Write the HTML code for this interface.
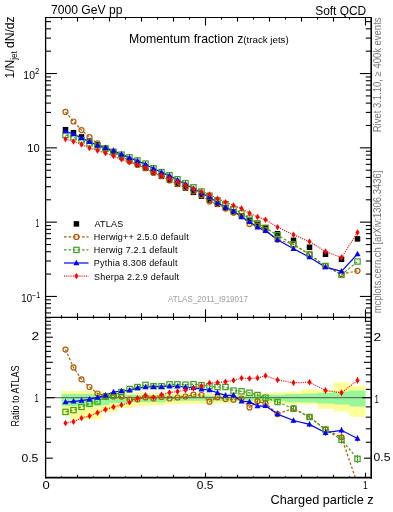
<!DOCTYPE html>
<html><head><meta charset="utf-8"><style>
html,body{margin:0;padding:0;background:#fff;width:393px;height:512px;overflow:hidden}
svg{display:block;will-change:transform;font-family:"Liberation Sans",sans-serif}
</style></head><body>
<svg width="393" height="512" viewBox="0 0 393 512">
<defs><clipPath id="cu"><rect x="45.5" y="17.5" width="325.5" height="300"/></clipPath>
<clipPath id="cl"><rect x="45.5" y="317.5" width="325.5" height="160"/></clipPath></defs>
<g clip-path="url(#cl)">
<path d="M61.5 390.9L69.5 390.9L69.5 390.9L77.5 390.9L77.5 390.9L85.5 390.9L85.5 390.9L93.5 390.9L93.5 390.9L101.5 390.9L101.5 392.3L109.5 392.3L109.5 392.3L117.5 392.3L117.5 392.3L125.5 392.3L125.5 393L133.5 393L133.5 393L141.5 393L141.5 393L149.5 393L149.5 393.3L157.5 393.3L157.5 393.3L165.5 393.3L165.5 393.3L173.5 393.3L173.5 393.3L181.5 393.3L181.5 393.3L189.5 393.3L189.5 393.3L197.5 393.3L197.5 393.3L205.5 393.3L205.5 393.3L213.5 393.3L213.5 393.3L221.5 393.3L221.5 393.3L229.5 393.3L229.5 393.3L237.5 393.3L237.5 393.3L245.5 393.3L245.5 393.3L253.5 393.3L253.5 393.3L261.5 393.3L261.5 393.3L269.5 393.3L269.5 392.5L285.5 392.5L285.5 391.6L301.5 391.6L301.5 389.3L317.5 389.3L317.5 390.5L333.5 390.5L333.5 382.3L349.5 382.3L349.5 385.8L365.5 385.8L365.5 416.7L349.5 416.7L349.5 411.6L333.5 411.6L333.5 408.7L317.5 408.7L317.5 404.5L301.5 404.5L301.5 404.5L285.5 404.5L285.5 403.5L269.5 403.5L269.5 402.8L261.5 402.8L261.5 402.8L253.5 402.8L253.5 402.8L245.5 402.8L245.5 402.8L237.5 402.8L237.5 403L229.5 403L229.5 403.2L221.5 403.2L221.5 403.5L213.5 403.5L213.5 403.5L205.5 403.5L205.5 403.8L197.5 403.8L197.5 404L189.5 404L189.5 404.2L181.5 404.2L181.5 404.2L173.5 404.2L173.5 404.2L165.5 404.2L165.5 405.4L157.5 405.4L157.5 405.4L149.5 405.4L149.5 406L141.5 406L141.5 406L133.5 406L133.5 408.2L125.5 408.2L125.5 408.2L117.5 408.2L117.5 412.3L109.5 412.3L109.5 412.3L101.5 412.3L101.5 419.4L93.5 419.4L93.5 419.4L85.5 419.4L85.5 419.4L77.5 419.4L77.5 419.4L69.5 419.4L69.5 415.3L61.5 415.3Z" fill="#ffff99"/>
<path d="M61.5 394L69.5 394L69.5 394L77.5 394L77.5 394L85.5 394L85.5 394L93.5 394L93.5 394L101.5 394L101.5 394.6L109.5 394.6L109.5 394.6L117.5 394.6L117.5 394.6L125.5 394.6L125.5 395L133.5 395L133.5 395L141.5 395L141.5 395L149.5 395L149.5 395L157.5 395L157.5 395L165.5 395L165.5 395.5L173.5 395.5L173.5 395.5L181.5 395.5L181.5 395.5L189.5 395.5L189.5 395.5L197.5 395.5L197.5 395.5L205.5 395.5L205.5 395.5L213.5 395.5L213.5 395.5L221.5 395.5L221.5 395.5L229.5 395.5L229.5 395.5L237.5 395.5L237.5 395.5L245.5 395.5L245.5 395.5L253.5 395.5L253.5 395.5L261.5 395.5L261.5 395.5L269.5 395.5L269.5 394.8L285.5 394.8L285.5 394L301.5 394L301.5 393.5L317.5 393.5L317.5 392.8L333.5 392.8L333.5 391.6L349.5 391.6L349.5 390.5L365.5 390.5L365.5 406.4L349.5 406.4L349.5 404.5L333.5 404.5L333.5 403.4L317.5 403.4L317.5 402.5L301.5 402.5L301.5 402.2L285.5 402.2L285.5 401L269.5 401L269.5 400.8L261.5 400.8L261.5 400.8L253.5 400.8L253.5 400.8L245.5 400.8L245.5 400.8L237.5 400.8L237.5 400.8L229.5 400.8L229.5 400.8L221.5 400.8L221.5 400.8L213.5 400.8L213.5 400.8L205.5 400.8L205.5 400.8L197.5 400.8L197.5 400.8L189.5 400.8L189.5 400.8L181.5 400.8L181.5 400.8L173.5 400.8L173.5 400.8L165.5 400.8L165.5 402.3L157.5 402.3L157.5 402.3L149.5 402.3L149.5 402.3L141.5 402.3L141.5 402.3L133.5 402.3L133.5 402.3L125.5 402.3L125.5 403.1L117.5 403.1L117.5 403.1L109.5 403.1L109.5 405.1L101.5 405.1L101.5 406.1L93.5 406.1L93.5 406.1L85.5 406.1L85.5 406.1L77.5 406.1L77.5 406.1L69.5 406.1L69.5 406.1L61.5 406.1Z" fill="#96f896"/>
<line x1="45.5" y1="397.7" x2="371" y2="397.7" stroke="#555" stroke-width="1"/>
<polyline points="65.5,349.6 73.5,367.4 81.5,379.3 89.5,387 97.5,393.5 105.5,395.8 113.5,396.4 121.5,396.6 129.5,399.5 137.5,399.3 145.5,397.4 153.5,398.5 161.5,397 169.5,398.5 177.5,397.5 185.5,396.5 193.5,394.6 201.5,395 209.5,401.7 217.5,397.2 225.5,399 233.5,399.7 241.5,398.5 249.5,407.4 257.5,401.3 265.5,403.4 277.5,414 293.5,408.4 309.5,417 325.5,429.6 341.5,437.3 357.5,484" fill="none" stroke="#b35a00" stroke-width="1.2" stroke-dasharray="2.6,1.9"/>
<polyline points="65.5,411.9 73.5,410.1 81.5,406.9 89.5,403.8 97.5,401.5 105.5,396.7 113.5,395.5 121.5,392 129.5,389 137.5,387.1 145.5,384.9 153.5,386.2 161.5,386.2 169.5,384.3 177.5,384.3 185.5,384.7 193.5,384.2 201.5,385.1 209.5,386.2 217.5,387 225.5,387 233.5,390.6 241.5,391.3 249.5,392.8 257.5,395 265.5,397.7 277.5,402 293.5,408.7 309.5,417 325.5,429.6 341.5,439.7 357.5,458.9" fill="none" stroke="#40a020" stroke-width="1.2" stroke-dasharray="2.6,1.9"/>
<polyline points="65.5,402.1 73.5,401.3 81.5,400.6 89.5,399.4 97.5,397.6 105.5,395.3 113.5,392.1 121.5,391 129.5,390.3 137.5,388.1 145.5,387.1 153.5,386.7 161.5,386.7 169.5,386.2 177.5,386.3 185.5,387 193.5,387.8 201.5,389.2 209.5,390.1 217.5,392.8 225.5,395.4 233.5,395.4 241.5,401.3 249.5,401.7 257.5,406.1 265.5,405.8 277.5,414.1 293.5,420.5 309.5,424.4 325.5,432.7 341.5,430.3 357.5,438.5" fill="none" stroke="#0000ff" stroke-width="1.2"/>
<polyline points="65.5,423.1 73.5,421.7 81.5,418.1 89.5,416 97.5,412.7 105.5,409.5 113.5,407 121.5,404.9 129.5,402.4 137.5,398.3 145.5,395.3 153.5,397.4 161.5,394.7 169.5,392.6 177.5,391.5 185.5,390.1 193.5,388.3 201.5,386 209.5,383 217.5,382.6 225.5,381.7 233.5,380.4 241.5,378.1 249.5,378.5 257.5,378 265.5,375.8 277.5,379.9 293.5,382.8 309.5,382.3 325.5,390.5 341.5,392.8 357.5,380.4" fill="none" stroke="#ff0000" stroke-width="1.2" stroke-dasharray="1,1.2"/>
<line x1="257.5" y1="399.8" x2="257.5" y2="402.8" stroke="#b35a00" stroke-width="1"/>
<line x1="265.5" y1="401.4" x2="265.5" y2="405.4" stroke="#b35a00" stroke-width="1"/>
<line x1="277.5" y1="410.5" x2="277.5" y2="417.5" stroke="#b35a00" stroke-width="1"/>
<line x1="293.5" y1="404.9" x2="293.5" y2="411.9" stroke="#b35a00" stroke-width="1"/>
<line x1="309.5" y1="414" x2="309.5" y2="420" stroke="#b35a00" stroke-width="1"/>
<line x1="325.5" y1="426.1" x2="325.5" y2="433.1" stroke="#b35a00" stroke-width="1"/>
<line x1="341.5" y1="433.3" x2="341.5" y2="441.3" stroke="#b35a00" stroke-width="1"/>
<line x1="357.5" y1="480" x2="357.5" y2="488" stroke="#b35a00" stroke-width="1"/>
<line x1="257.5" y1="393.5" x2="257.5" y2="396.5" stroke="#40a020" stroke-width="1"/>
<line x1="265.5" y1="395.7" x2="265.5" y2="399.7" stroke="#40a020" stroke-width="1"/>
<line x1="277.5" y1="399" x2="277.5" y2="405" stroke="#40a020" stroke-width="1"/>
<line x1="293.5" y1="405.7" x2="293.5" y2="411.7" stroke="#40a020" stroke-width="1"/>
<line x1="309.5" y1="414" x2="309.5" y2="420" stroke="#40a020" stroke-width="1"/>
<line x1="325.5" y1="426.1" x2="325.5" y2="433.1" stroke="#40a020" stroke-width="1"/>
<line x1="341.5" y1="435.7" x2="341.5" y2="443.7" stroke="#40a020" stroke-width="1"/>
<line x1="357.5" y1="454.9" x2="357.5" y2="462.9" stroke="#40a020" stroke-width="1"/>
<line x1="257.5" y1="404.6" x2="257.5" y2="407.6" stroke="#0000ff" stroke-width="1"/>
<line x1="265.5" y1="404.3" x2="265.5" y2="407.3" stroke="#0000ff" stroke-width="1"/>
<line x1="277.5" y1="411.6" x2="277.5" y2="416.6" stroke="#0000ff" stroke-width="1"/>
<line x1="293.5" y1="418" x2="293.5" y2="423" stroke="#0000ff" stroke-width="1"/>
<line x1="309.5" y1="421.9" x2="309.5" y2="426.9" stroke="#0000ff" stroke-width="1"/>
<line x1="325.5" y1="429.7" x2="325.5" y2="435.7" stroke="#0000ff" stroke-width="1"/>
<line x1="341.5" y1="427.3" x2="341.5" y2="433.3" stroke="#0000ff" stroke-width="1"/>
<line x1="357.5" y1="435.5" x2="357.5" y2="441.5" stroke="#0000ff" stroke-width="1"/>
<line x1="257.5" y1="376.5" x2="257.5" y2="379.5" stroke="#ff0000" stroke-width="1"/>
<line x1="265.5" y1="374.3" x2="265.5" y2="377.3" stroke="#ff0000" stroke-width="1"/>
<line x1="277.5" y1="377.4" x2="277.5" y2="382.4" stroke="#ff0000" stroke-width="1"/>
<line x1="293.5" y1="380.3" x2="293.5" y2="385.3" stroke="#ff0000" stroke-width="1"/>
<line x1="309.5" y1="379.8" x2="309.5" y2="384.8" stroke="#ff0000" stroke-width="1"/>
<line x1="325.5" y1="387.5" x2="325.5" y2="393.5" stroke="#ff0000" stroke-width="1"/>
<line x1="341.5" y1="389.8" x2="341.5" y2="395.8" stroke="#ff0000" stroke-width="1"/>
<line x1="357.5" y1="377.4" x2="357.5" y2="383.4" stroke="#ff0000" stroke-width="1"/>
<circle cx="65.5" cy="349.6" r="2.5" fill="none" stroke="#b35a00" stroke-width="1.2"/>
<circle cx="73.5" cy="367.4" r="2.5" fill="none" stroke="#b35a00" stroke-width="1.2"/>
<circle cx="81.5" cy="379.3" r="2.5" fill="none" stroke="#b35a00" stroke-width="1.2"/>
<circle cx="89.5" cy="387" r="2.5" fill="none" stroke="#b35a00" stroke-width="1.2"/>
<circle cx="97.5" cy="393.5" r="2.5" fill="none" stroke="#b35a00" stroke-width="1.2"/>
<circle cx="105.5" cy="395.8" r="2.5" fill="none" stroke="#b35a00" stroke-width="1.2"/>
<circle cx="113.5" cy="396.4" r="2.5" fill="none" stroke="#b35a00" stroke-width="1.2"/>
<circle cx="121.5" cy="396.6" r="2.5" fill="none" stroke="#b35a00" stroke-width="1.2"/>
<circle cx="129.5" cy="399.5" r="2.5" fill="none" stroke="#b35a00" stroke-width="1.2"/>
<circle cx="137.5" cy="399.3" r="2.5" fill="none" stroke="#b35a00" stroke-width="1.2"/>
<circle cx="145.5" cy="397.4" r="2.5" fill="none" stroke="#b35a00" stroke-width="1.2"/>
<circle cx="153.5" cy="398.5" r="2.5" fill="none" stroke="#b35a00" stroke-width="1.2"/>
<circle cx="161.5" cy="397" r="2.5" fill="none" stroke="#b35a00" stroke-width="1.2"/>
<circle cx="169.5" cy="398.5" r="2.5" fill="none" stroke="#b35a00" stroke-width="1.2"/>
<circle cx="177.5" cy="397.5" r="2.5" fill="none" stroke="#b35a00" stroke-width="1.2"/>
<circle cx="185.5" cy="396.5" r="2.5" fill="none" stroke="#b35a00" stroke-width="1.2"/>
<circle cx="193.5" cy="394.6" r="2.5" fill="none" stroke="#b35a00" stroke-width="1.2"/>
<circle cx="201.5" cy="395" r="2.5" fill="none" stroke="#b35a00" stroke-width="1.2"/>
<circle cx="209.5" cy="401.7" r="2.5" fill="none" stroke="#b35a00" stroke-width="1.2"/>
<circle cx="217.5" cy="397.2" r="2.5" fill="none" stroke="#b35a00" stroke-width="1.2"/>
<circle cx="225.5" cy="399" r="2.5" fill="none" stroke="#b35a00" stroke-width="1.2"/>
<circle cx="233.5" cy="399.7" r="2.5" fill="none" stroke="#b35a00" stroke-width="1.2"/>
<circle cx="241.5" cy="398.5" r="2.5" fill="none" stroke="#b35a00" stroke-width="1.2"/>
<circle cx="249.5" cy="407.4" r="2.5" fill="none" stroke="#b35a00" stroke-width="1.2"/>
<circle cx="257.5" cy="401.3" r="2.5" fill="none" stroke="#b35a00" stroke-width="1.2"/>
<circle cx="265.5" cy="403.4" r="2.5" fill="none" stroke="#b35a00" stroke-width="1.2"/>
<circle cx="277.5" cy="414" r="2.5" fill="none" stroke="#b35a00" stroke-width="1.2"/>
<circle cx="293.5" cy="408.4" r="2.5" fill="none" stroke="#b35a00" stroke-width="1.2"/>
<circle cx="309.5" cy="417" r="2.5" fill="none" stroke="#b35a00" stroke-width="1.2"/>
<circle cx="325.5" cy="429.6" r="2.5" fill="none" stroke="#b35a00" stroke-width="1.2"/>
<circle cx="341.5" cy="437.3" r="2.5" fill="none" stroke="#b35a00" stroke-width="1.2"/>
<circle cx="357.5" cy="484" r="2.5" fill="none" stroke="#b35a00" stroke-width="1.2"/>
<rect x="62.85" y="409.25" width="5.3" height="5.3" fill="none" stroke="#40a020" stroke-width="1.2"/>
<rect x="70.85" y="407.45" width="5.3" height="5.3" fill="none" stroke="#40a020" stroke-width="1.2"/>
<rect x="78.85" y="404.25" width="5.3" height="5.3" fill="none" stroke="#40a020" stroke-width="1.2"/>
<rect x="86.85" y="401.15" width="5.3" height="5.3" fill="none" stroke="#40a020" stroke-width="1.2"/>
<rect x="94.85" y="398.85" width="5.3" height="5.3" fill="none" stroke="#40a020" stroke-width="1.2"/>
<rect x="102.85" y="394.05" width="5.3" height="5.3" fill="none" stroke="#40a020" stroke-width="1.2"/>
<rect x="110.85" y="392.85" width="5.3" height="5.3" fill="none" stroke="#40a020" stroke-width="1.2"/>
<rect x="118.85" y="389.35" width="5.3" height="5.3" fill="none" stroke="#40a020" stroke-width="1.2"/>
<rect x="126.85" y="386.35" width="5.3" height="5.3" fill="none" stroke="#40a020" stroke-width="1.2"/>
<rect x="134.85" y="384.45" width="5.3" height="5.3" fill="none" stroke="#40a020" stroke-width="1.2"/>
<rect x="142.85" y="382.25" width="5.3" height="5.3" fill="none" stroke="#40a020" stroke-width="1.2"/>
<rect x="150.85" y="383.55" width="5.3" height="5.3" fill="none" stroke="#40a020" stroke-width="1.2"/>
<rect x="158.85" y="383.55" width="5.3" height="5.3" fill="none" stroke="#40a020" stroke-width="1.2"/>
<rect x="166.85" y="381.65" width="5.3" height="5.3" fill="none" stroke="#40a020" stroke-width="1.2"/>
<rect x="174.85" y="381.65" width="5.3" height="5.3" fill="none" stroke="#40a020" stroke-width="1.2"/>
<rect x="182.85" y="382.05" width="5.3" height="5.3" fill="none" stroke="#40a020" stroke-width="1.2"/>
<rect x="190.85" y="381.55" width="5.3" height="5.3" fill="none" stroke="#40a020" stroke-width="1.2"/>
<rect x="198.85" y="382.45" width="5.3" height="5.3" fill="none" stroke="#40a020" stroke-width="1.2"/>
<rect x="206.85" y="383.55" width="5.3" height="5.3" fill="none" stroke="#40a020" stroke-width="1.2"/>
<rect x="214.85" y="384.35" width="5.3" height="5.3" fill="none" stroke="#40a020" stroke-width="1.2"/>
<rect x="222.85" y="384.35" width="5.3" height="5.3" fill="none" stroke="#40a020" stroke-width="1.2"/>
<rect x="230.85" y="387.95" width="5.3" height="5.3" fill="none" stroke="#40a020" stroke-width="1.2"/>
<rect x="238.85" y="388.65" width="5.3" height="5.3" fill="none" stroke="#40a020" stroke-width="1.2"/>
<rect x="246.85" y="390.15" width="5.3" height="5.3" fill="none" stroke="#40a020" stroke-width="1.2"/>
<rect x="254.85" y="392.35" width="5.3" height="5.3" fill="none" stroke="#40a020" stroke-width="1.2"/>
<rect x="262.85" y="395.05" width="5.3" height="5.3" fill="none" stroke="#40a020" stroke-width="1.2"/>
<rect x="274.85" y="399.35" width="5.3" height="5.3" fill="none" stroke="#40a020" stroke-width="1.2"/>
<rect x="290.85" y="406.05" width="5.3" height="5.3" fill="none" stroke="#40a020" stroke-width="1.2"/>
<rect x="306.85" y="414.35" width="5.3" height="5.3" fill="none" stroke="#40a020" stroke-width="1.2"/>
<rect x="322.85" y="426.95" width="5.3" height="5.3" fill="none" stroke="#40a020" stroke-width="1.2"/>
<rect x="338.85" y="437.05" width="5.3" height="5.3" fill="none" stroke="#40a020" stroke-width="1.2"/>
<rect x="354.85" y="456.25" width="5.3" height="5.3" fill="none" stroke="#40a020" stroke-width="1.2"/>
<path d="M65.5 398.8L68.5 404.3L62.5 404.3Z" fill="#0000ff"/>
<path d="M73.5 398L76.5 403.5L70.5 403.5Z" fill="#0000ff"/>
<path d="M81.5 397.3L84.5 402.8L78.5 402.8Z" fill="#0000ff"/>
<path d="M89.5 396.1L92.5 401.6L86.5 401.6Z" fill="#0000ff"/>
<path d="M97.5 394.3L100.5 399.8L94.5 399.8Z" fill="#0000ff"/>
<path d="M105.5 392L108.5 397.5L102.5 397.5Z" fill="#0000ff"/>
<path d="M113.5 388.8L116.5 394.3L110.5 394.3Z" fill="#0000ff"/>
<path d="M121.5 387.7L124.5 393.2L118.5 393.2Z" fill="#0000ff"/>
<path d="M129.5 387L132.5 392.5L126.5 392.5Z" fill="#0000ff"/>
<path d="M137.5 384.8L140.5 390.3L134.5 390.3Z" fill="#0000ff"/>
<path d="M145.5 383.8L148.5 389.3L142.5 389.3Z" fill="#0000ff"/>
<path d="M153.5 383.4L156.5 388.9L150.5 388.9Z" fill="#0000ff"/>
<path d="M161.5 383.4L164.5 388.9L158.5 388.9Z" fill="#0000ff"/>
<path d="M169.5 382.9L172.5 388.4L166.5 388.4Z" fill="#0000ff"/>
<path d="M177.5 383L180.5 388.5L174.5 388.5Z" fill="#0000ff"/>
<path d="M185.5 383.7L188.5 389.2L182.5 389.2Z" fill="#0000ff"/>
<path d="M193.5 384.5L196.5 390L190.5 390Z" fill="#0000ff"/>
<path d="M201.5 385.9L204.5 391.4L198.5 391.4Z" fill="#0000ff"/>
<path d="M209.5 386.8L212.5 392.3L206.5 392.3Z" fill="#0000ff"/>
<path d="M217.5 389.5L220.5 395L214.5 395Z" fill="#0000ff"/>
<path d="M225.5 392.1L228.5 397.6L222.5 397.6Z" fill="#0000ff"/>
<path d="M233.5 392.1L236.5 397.6L230.5 397.6Z" fill="#0000ff"/>
<path d="M241.5 398L244.5 403.5L238.5 403.5Z" fill="#0000ff"/>
<path d="M249.5 398.4L252.5 403.9L246.5 403.9Z" fill="#0000ff"/>
<path d="M257.5 402.8L260.5 408.3L254.5 408.3Z" fill="#0000ff"/>
<path d="M265.5 402.5L268.5 408L262.5 408Z" fill="#0000ff"/>
<path d="M277.5 410.8L280.5 416.3L274.5 416.3Z" fill="#0000ff"/>
<path d="M293.5 417.2L296.5 422.7L290.5 422.7Z" fill="#0000ff"/>
<path d="M309.5 421.1L312.5 426.6L306.5 426.6Z" fill="#0000ff"/>
<path d="M325.5 429.4L328.5 434.9L322.5 434.9Z" fill="#0000ff"/>
<path d="M341.5 427L344.5 432.5L338.5 432.5Z" fill="#0000ff"/>
<path d="M357.5 435.2L360.5 440.7L354.5 440.7Z" fill="#0000ff"/>
<path d="M65.5 419.9L67.6 423.1L65.5 426.3L63.4 423.1Z" fill="#ff0000"/>
<path d="M73.5 418.5L75.6 421.7L73.5 424.9L71.4 421.7Z" fill="#ff0000"/>
<path d="M81.5 414.9L83.6 418.1L81.5 421.3L79.4 418.1Z" fill="#ff0000"/>
<path d="M89.5 412.8L91.6 416L89.5 419.2L87.4 416Z" fill="#ff0000"/>
<path d="M97.5 409.5L99.6 412.7L97.5 415.9L95.4 412.7Z" fill="#ff0000"/>
<path d="M105.5 406.3L107.6 409.5L105.5 412.7L103.4 409.5Z" fill="#ff0000"/>
<path d="M113.5 403.8L115.6 407L113.5 410.2L111.4 407Z" fill="#ff0000"/>
<path d="M121.5 401.7L123.6 404.9L121.5 408.1L119.4 404.9Z" fill="#ff0000"/>
<path d="M129.5 399.2L131.6 402.4L129.5 405.6L127.4 402.4Z" fill="#ff0000"/>
<path d="M137.5 395.1L139.6 398.3L137.5 401.5L135.4 398.3Z" fill="#ff0000"/>
<path d="M145.5 392.1L147.6 395.3L145.5 398.5L143.4 395.3Z" fill="#ff0000"/>
<path d="M153.5 394.2L155.6 397.4L153.5 400.6L151.4 397.4Z" fill="#ff0000"/>
<path d="M161.5 391.5L163.6 394.7L161.5 397.9L159.4 394.7Z" fill="#ff0000"/>
<path d="M169.5 389.4L171.6 392.6L169.5 395.8L167.4 392.6Z" fill="#ff0000"/>
<path d="M177.5 388.3L179.6 391.5L177.5 394.7L175.4 391.5Z" fill="#ff0000"/>
<path d="M185.5 386.9L187.6 390.1L185.5 393.3L183.4 390.1Z" fill="#ff0000"/>
<path d="M193.5 385.1L195.6 388.3L193.5 391.5L191.4 388.3Z" fill="#ff0000"/>
<path d="M201.5 382.8L203.6 386L201.5 389.2L199.4 386Z" fill="#ff0000"/>
<path d="M209.5 379.8L211.6 383L209.5 386.2L207.4 383Z" fill="#ff0000"/>
<path d="M217.5 379.4L219.6 382.6L217.5 385.8L215.4 382.6Z" fill="#ff0000"/>
<path d="M225.5 378.5L227.6 381.7L225.5 384.9L223.4 381.7Z" fill="#ff0000"/>
<path d="M233.5 377.2L235.6 380.4L233.5 383.6L231.4 380.4Z" fill="#ff0000"/>
<path d="M241.5 374.9L243.6 378.1L241.5 381.3L239.4 378.1Z" fill="#ff0000"/>
<path d="M249.5 375.3L251.6 378.5L249.5 381.7L247.4 378.5Z" fill="#ff0000"/>
<path d="M257.5 374.8L259.6 378L257.5 381.2L255.4 378Z" fill="#ff0000"/>
<path d="M265.5 372.6L267.6 375.8L265.5 379L263.4 375.8Z" fill="#ff0000"/>
<path d="M277.5 376.7L279.6 379.9L277.5 383.1L275.4 379.9Z" fill="#ff0000"/>
<path d="M293.5 379.6L295.6 382.8L293.5 386L291.4 382.8Z" fill="#ff0000"/>
<path d="M309.5 379.1L311.6 382.3L309.5 385.5L307.4 382.3Z" fill="#ff0000"/>
<path d="M325.5 387.3L327.6 390.5L325.5 393.7L323.4 390.5Z" fill="#ff0000"/>
<path d="M341.5 389.6L343.6 392.8L341.5 396L339.4 392.8Z" fill="#ff0000"/>
<path d="M357.5 377.2L359.6 380.4L357.5 383.6L355.4 380.4Z" fill="#ff0000"/>
</g>
<g clip-path="url(#cu)">
<rect x="62.75" y="126.95" width="5.5" height="5.5" fill="#000"/>
<rect x="70.75" y="129.95" width="5.5" height="5.5" fill="#000"/>
<rect x="78.75" y="134.15" width="5.5" height="5.5" fill="#000"/>
<rect x="86.75" y="138.41" width="5.5" height="5.5" fill="#000"/>
<rect x="94.75" y="142.23" width="5.5" height="5.5" fill="#000"/>
<rect x="102.75" y="146.05" width="5.5" height="5.5" fill="#000"/>
<rect x="110.75" y="149.87" width="5.5" height="5.5" fill="#000"/>
<rect x="118.75" y="153.99" width="5.5" height="5.5" fill="#000"/>
<rect x="126.75" y="157.81" width="5.5" height="5.5" fill="#000"/>
<rect x="134.75" y="161.63" width="5.5" height="5.5" fill="#000"/>
<rect x="142.75" y="165.55" width="5.5" height="5.5" fill="#000"/>
<rect x="150.75" y="169.77" width="5.5" height="5.5" fill="#000"/>
<rect x="158.75" y="173.59" width="5.5" height="5.5" fill="#000"/>
<rect x="166.75" y="177.41" width="5.5" height="5.5" fill="#000"/>
<rect x="174.75" y="181.43" width="5.5" height="5.5" fill="#000"/>
<rect x="182.75" y="185.25" width="5.5" height="5.5" fill="#000"/>
<rect x="190.75" y="189.57" width="5.5" height="5.5" fill="#000"/>
<rect x="198.75" y="193.39" width="5.5" height="5.5" fill="#000"/>
<rect x="206.75" y="197.21" width="5.5" height="5.5" fill="#000"/>
<rect x="214.75" y="201.53" width="5.5" height="5.5" fill="#000"/>
<rect x="222.75" y="205.35" width="5.5" height="5.5" fill="#000"/>
<rect x="230.75" y="209.17" width="5.5" height="5.5" fill="#000"/>
<rect x="238.75" y="212.99" width="5.5" height="5.5" fill="#000"/>
<rect x="246.75" y="217.55" width="5.5" height="5.5" fill="#000"/>
<rect x="254.75" y="221.55" width="5.5" height="5.5" fill="#000"/>
<rect x="262.75" y="225.05" width="5.5" height="5.5" fill="#000"/>
<rect x="274.75" y="230.95" width="5.5" height="5.5" fill="#000"/>
<rect x="290.75" y="237.55" width="5.5" height="5.5" fill="#000"/>
<rect x="306.75" y="244.55" width="5.5" height="5.5" fill="#000"/>
<rect x="322.75" y="251.45" width="5.5" height="5.5" fill="#000"/>
<rect x="338.75" y="256.55" width="5.5" height="5.5" fill="#000"/>
<rect x="354.75" y="236.15" width="5.5" height="5.5" fill="#000"/>
<polyline points="65.5,111.91 73.5,121.49 81.5,130.1 89.5,137.2 97.5,143.43 105.5,148.1 113.5,152.14 121.5,156.33 129.5,161.23 137.5,164.97 145.5,168.19 153.5,172.82 161.5,176.08 169.5,180.46 177.5,184.11 185.5,187.56 193.5,191.17 201.5,195.14 209.5,201.44 217.5,204.1 225.5,208.58 233.5,212.66 241.5,216.04 249.5,223.89 257.5,225.63 265.5,229.91 277.5,239.73 293.5,244.26 309.5,254.44 325.5,266 341.5,273.95 357.5,270.82" fill="none" stroke="#b35a00" stroke-width="1.2" stroke-dasharray="2.6,1.9"/>
<polyline points="65.5,134.95 73.5,137.29 81.5,140.3 89.5,143.42 97.5,146.39 105.5,148.43 113.5,151.81 121.5,154.63 129.5,157.34 137.5,160.46 145.5,163.57 153.5,168.27 161.5,172.09 169.5,175.2 177.5,179.22 185.5,183.19 193.5,187.33 201.5,191.48 209.5,195.71 217.5,200.32 225.5,204.14 233.5,209.29 241.5,213.37 249.5,218.49 257.5,223.3 265.5,227.8 277.5,235.29 293.5,244.37 309.5,254.44 325.5,266 341.5,274.83 357.5,261.53" fill="none" stroke="#40a020" stroke-width="1.2" stroke-dasharray="2.6,1.9"/>
<polyline points="65.5,131.33 73.5,134.03 81.5,137.97 89.5,141.79 97.5,144.94 105.5,147.91 113.5,150.55 121.5,154.26 129.5,157.82 137.5,160.83 145.5,164.38 153.5,168.45 161.5,172.27 169.5,175.91 177.5,179.96 185.5,184.04 193.5,188.66 201.5,193 209.5,197.15 217.5,202.47 225.5,207.25 233.5,211.07 241.5,217.07 249.5,221.78 257.5,227.41 265.5,230.8 277.5,239.77 293.5,248.73 309.5,257.17 325.5,267.14 341.5,271.36 357.5,253.99" fill="none" stroke="#0000ff" stroke-width="1.2"/>
<polyline points="65.5,139.09 73.5,141.58 81.5,144.44 89.5,147.93 97.5,150.53 105.5,153.16 113.5,156.06 121.5,159.4 129.5,162.3 137.5,164.6 145.5,167.41 153.5,172.41 161.5,175.23 169.5,178.27 177.5,181.89 185.5,185.19 193.5,188.84 201.5,191.81 209.5,194.52 217.5,198.7 225.5,202.18 233.5,205.52 241.5,208.49 249.5,213.2 257.5,217.01 265.5,219.7 277.5,227.12 293.5,234.79 309.5,241.6 325.5,251.54 341.5,257.49 357.5,232.5" fill="none" stroke="#ff0000" stroke-width="1.2" stroke-dasharray="1,1.2"/>
<circle cx="65.5" cy="111.91" r="2.5" fill="none" stroke="#b35a00" stroke-width="1.2"/>
<circle cx="73.5" cy="121.49" r="2.5" fill="none" stroke="#b35a00" stroke-width="1.2"/>
<circle cx="81.5" cy="130.1" r="2.5" fill="none" stroke="#b35a00" stroke-width="1.2"/>
<circle cx="89.5" cy="137.2" r="2.5" fill="none" stroke="#b35a00" stroke-width="1.2"/>
<circle cx="97.5" cy="143.43" r="2.5" fill="none" stroke="#b35a00" stroke-width="1.2"/>
<circle cx="105.5" cy="148.1" r="2.5" fill="none" stroke="#b35a00" stroke-width="1.2"/>
<circle cx="113.5" cy="152.14" r="2.5" fill="none" stroke="#b35a00" stroke-width="1.2"/>
<circle cx="121.5" cy="156.33" r="2.5" fill="none" stroke="#b35a00" stroke-width="1.2"/>
<circle cx="129.5" cy="161.23" r="2.5" fill="none" stroke="#b35a00" stroke-width="1.2"/>
<circle cx="137.5" cy="164.97" r="2.5" fill="none" stroke="#b35a00" stroke-width="1.2"/>
<circle cx="145.5" cy="168.19" r="2.5" fill="none" stroke="#b35a00" stroke-width="1.2"/>
<circle cx="153.5" cy="172.82" r="2.5" fill="none" stroke="#b35a00" stroke-width="1.2"/>
<circle cx="161.5" cy="176.08" r="2.5" fill="none" stroke="#b35a00" stroke-width="1.2"/>
<circle cx="169.5" cy="180.46" r="2.5" fill="none" stroke="#b35a00" stroke-width="1.2"/>
<circle cx="177.5" cy="184.11" r="2.5" fill="none" stroke="#b35a00" stroke-width="1.2"/>
<circle cx="185.5" cy="187.56" r="2.5" fill="none" stroke="#b35a00" stroke-width="1.2"/>
<circle cx="193.5" cy="191.17" r="2.5" fill="none" stroke="#b35a00" stroke-width="1.2"/>
<circle cx="201.5" cy="195.14" r="2.5" fill="none" stroke="#b35a00" stroke-width="1.2"/>
<circle cx="209.5" cy="201.44" r="2.5" fill="none" stroke="#b35a00" stroke-width="1.2"/>
<circle cx="217.5" cy="204.1" r="2.5" fill="none" stroke="#b35a00" stroke-width="1.2"/>
<circle cx="225.5" cy="208.58" r="2.5" fill="none" stroke="#b35a00" stroke-width="1.2"/>
<circle cx="233.5" cy="212.66" r="2.5" fill="none" stroke="#b35a00" stroke-width="1.2"/>
<circle cx="241.5" cy="216.04" r="2.5" fill="none" stroke="#b35a00" stroke-width="1.2"/>
<circle cx="249.5" cy="223.89" r="2.5" fill="none" stroke="#b35a00" stroke-width="1.2"/>
<circle cx="257.5" cy="225.63" r="2.5" fill="none" stroke="#b35a00" stroke-width="1.2"/>
<circle cx="265.5" cy="229.91" r="2.5" fill="none" stroke="#b35a00" stroke-width="1.2"/>
<circle cx="277.5" cy="239.73" r="2.5" fill="none" stroke="#b35a00" stroke-width="1.2"/>
<circle cx="293.5" cy="244.26" r="2.5" fill="none" stroke="#b35a00" stroke-width="1.2"/>
<circle cx="309.5" cy="254.44" r="2.5" fill="none" stroke="#b35a00" stroke-width="1.2"/>
<circle cx="325.5" cy="266" r="2.5" fill="none" stroke="#b35a00" stroke-width="1.2"/>
<circle cx="341.5" cy="273.95" r="2.5" fill="none" stroke="#b35a00" stroke-width="1.2"/>
<circle cx="357.5" cy="270.82" r="2.5" fill="none" stroke="#b35a00" stroke-width="1.2"/>
<rect x="62.85" y="132.3" width="5.3" height="5.3" fill="none" stroke="#40a020" stroke-width="1.2"/>
<rect x="70.85" y="134.64" width="5.3" height="5.3" fill="none" stroke="#40a020" stroke-width="1.2"/>
<rect x="78.85" y="137.65" width="5.3" height="5.3" fill="none" stroke="#40a020" stroke-width="1.2"/>
<rect x="86.85" y="140.77" width="5.3" height="5.3" fill="none" stroke="#40a020" stroke-width="1.2"/>
<rect x="94.85" y="143.74" width="5.3" height="5.3" fill="none" stroke="#40a020" stroke-width="1.2"/>
<rect x="102.85" y="145.78" width="5.3" height="5.3" fill="none" stroke="#40a020" stroke-width="1.2"/>
<rect x="110.85" y="149.16" width="5.3" height="5.3" fill="none" stroke="#40a020" stroke-width="1.2"/>
<rect x="118.85" y="151.98" width="5.3" height="5.3" fill="none" stroke="#40a020" stroke-width="1.2"/>
<rect x="126.85" y="154.69" width="5.3" height="5.3" fill="none" stroke="#40a020" stroke-width="1.2"/>
<rect x="134.85" y="157.81" width="5.3" height="5.3" fill="none" stroke="#40a020" stroke-width="1.2"/>
<rect x="142.85" y="160.92" width="5.3" height="5.3" fill="none" stroke="#40a020" stroke-width="1.2"/>
<rect x="150.85" y="165.62" width="5.3" height="5.3" fill="none" stroke="#40a020" stroke-width="1.2"/>
<rect x="158.85" y="169.44" width="5.3" height="5.3" fill="none" stroke="#40a020" stroke-width="1.2"/>
<rect x="166.85" y="172.55" width="5.3" height="5.3" fill="none" stroke="#40a020" stroke-width="1.2"/>
<rect x="174.85" y="176.57" width="5.3" height="5.3" fill="none" stroke="#40a020" stroke-width="1.2"/>
<rect x="182.85" y="180.54" width="5.3" height="5.3" fill="none" stroke="#40a020" stroke-width="1.2"/>
<rect x="190.85" y="184.68" width="5.3" height="5.3" fill="none" stroke="#40a020" stroke-width="1.2"/>
<rect x="198.85" y="188.83" width="5.3" height="5.3" fill="none" stroke="#40a020" stroke-width="1.2"/>
<rect x="206.85" y="193.06" width="5.3" height="5.3" fill="none" stroke="#40a020" stroke-width="1.2"/>
<rect x="214.85" y="197.67" width="5.3" height="5.3" fill="none" stroke="#40a020" stroke-width="1.2"/>
<rect x="222.85" y="201.49" width="5.3" height="5.3" fill="none" stroke="#40a020" stroke-width="1.2"/>
<rect x="230.85" y="206.64" width="5.3" height="5.3" fill="none" stroke="#40a020" stroke-width="1.2"/>
<rect x="238.85" y="210.72" width="5.3" height="5.3" fill="none" stroke="#40a020" stroke-width="1.2"/>
<rect x="246.85" y="215.84" width="5.3" height="5.3" fill="none" stroke="#40a020" stroke-width="1.2"/>
<rect x="254.85" y="220.65" width="5.3" height="5.3" fill="none" stroke="#40a020" stroke-width="1.2"/>
<rect x="262.85" y="225.15" width="5.3" height="5.3" fill="none" stroke="#40a020" stroke-width="1.2"/>
<rect x="274.85" y="232.64" width="5.3" height="5.3" fill="none" stroke="#40a020" stroke-width="1.2"/>
<rect x="290.85" y="241.72" width="5.3" height="5.3" fill="none" stroke="#40a020" stroke-width="1.2"/>
<rect x="306.85" y="251.79" width="5.3" height="5.3" fill="none" stroke="#40a020" stroke-width="1.2"/>
<rect x="322.85" y="263.35" width="5.3" height="5.3" fill="none" stroke="#40a020" stroke-width="1.2"/>
<rect x="338.85" y="272.18" width="5.3" height="5.3" fill="none" stroke="#40a020" stroke-width="1.2"/>
<rect x="354.85" y="258.88" width="5.3" height="5.3" fill="none" stroke="#40a020" stroke-width="1.2"/>
<path d="M65.5 128.03L68.5 133.53L62.5 133.53Z" fill="#0000ff"/>
<path d="M73.5 130.73L76.5 136.23L70.5 136.23Z" fill="#0000ff"/>
<path d="M81.5 134.67L84.5 140.17L78.5 140.17Z" fill="#0000ff"/>
<path d="M89.5 138.49L92.5 143.99L86.5 143.99Z" fill="#0000ff"/>
<path d="M97.5 141.64L100.5 147.14L94.5 147.14Z" fill="#0000ff"/>
<path d="M105.5 144.61L108.5 150.11L102.5 150.11Z" fill="#0000ff"/>
<path d="M113.5 147.25L116.5 152.75L110.5 152.75Z" fill="#0000ff"/>
<path d="M121.5 150.96L124.5 156.46L118.5 156.46Z" fill="#0000ff"/>
<path d="M129.5 154.52L132.5 160.02L126.5 160.02Z" fill="#0000ff"/>
<path d="M137.5 157.53L140.5 163.03L134.5 163.03Z" fill="#0000ff"/>
<path d="M145.5 161.08L148.5 166.58L142.5 166.58Z" fill="#0000ff"/>
<path d="M153.5 165.15L156.5 170.65L150.5 170.65Z" fill="#0000ff"/>
<path d="M161.5 168.97L164.5 174.47L158.5 174.47Z" fill="#0000ff"/>
<path d="M169.5 172.61L172.5 178.11L166.5 178.11Z" fill="#0000ff"/>
<path d="M177.5 176.66L180.5 182.16L174.5 182.16Z" fill="#0000ff"/>
<path d="M185.5 180.74L188.5 186.24L182.5 186.24Z" fill="#0000ff"/>
<path d="M193.5 185.36L196.5 190.86L190.5 190.86Z" fill="#0000ff"/>
<path d="M201.5 189.7L204.5 195.2L198.5 195.2Z" fill="#0000ff"/>
<path d="M209.5 193.85L212.5 199.35L206.5 199.35Z" fill="#0000ff"/>
<path d="M217.5 199.17L220.5 204.67L214.5 204.67Z" fill="#0000ff"/>
<path d="M225.5 203.95L228.5 209.45L222.5 209.45Z" fill="#0000ff"/>
<path d="M233.5 207.77L236.5 213.27L230.5 213.27Z" fill="#0000ff"/>
<path d="M241.5 213.77L244.5 219.27L238.5 219.27Z" fill="#0000ff"/>
<path d="M249.5 218.48L252.5 223.98L246.5 223.98Z" fill="#0000ff"/>
<path d="M257.5 224.11L260.5 229.61L254.5 229.61Z" fill="#0000ff"/>
<path d="M265.5 227.5L268.5 233L262.5 233Z" fill="#0000ff"/>
<path d="M277.5 236.47L280.5 241.97L274.5 241.97Z" fill="#0000ff"/>
<path d="M293.5 245.43L296.5 250.93L290.5 250.93Z" fill="#0000ff"/>
<path d="M309.5 253.87L312.5 259.37L306.5 259.37Z" fill="#0000ff"/>
<path d="M325.5 263.84L328.5 269.34L322.5 269.34Z" fill="#0000ff"/>
<path d="M341.5 268.06L344.5 273.56L338.5 273.56Z" fill="#0000ff"/>
<path d="M357.5 250.69L360.5 256.19L354.5 256.19Z" fill="#0000ff"/>
<path d="M65.5 135.89L67.6 139.09L65.5 142.29L63.4 139.09Z" fill="#ff0000"/>
<path d="M73.5 138.38L75.6 141.58L73.5 144.78L71.4 141.58Z" fill="#ff0000"/>
<path d="M81.5 141.24L83.6 144.44L81.5 147.64L79.4 144.44Z" fill="#ff0000"/>
<path d="M89.5 144.73L91.6 147.93L89.5 151.13L87.4 147.93Z" fill="#ff0000"/>
<path d="M97.5 147.33L99.6 150.53L97.5 153.73L95.4 150.53Z" fill="#ff0000"/>
<path d="M105.5 149.96L107.6 153.16L105.5 156.36L103.4 153.16Z" fill="#ff0000"/>
<path d="M113.5 152.86L115.6 156.06L113.5 159.26L111.4 156.06Z" fill="#ff0000"/>
<path d="M121.5 156.2L123.6 159.4L121.5 162.6L119.4 159.4Z" fill="#ff0000"/>
<path d="M129.5 159.1L131.6 162.3L129.5 165.5L127.4 162.3Z" fill="#ff0000"/>
<path d="M137.5 161.4L139.6 164.6L137.5 167.8L135.4 164.6Z" fill="#ff0000"/>
<path d="M145.5 164.21L147.6 167.41L145.5 170.61L143.4 167.41Z" fill="#ff0000"/>
<path d="M153.5 169.21L155.6 172.41L153.5 175.61L151.4 172.41Z" fill="#ff0000"/>
<path d="M161.5 172.03L163.6 175.23L161.5 178.43L159.4 175.23Z" fill="#ff0000"/>
<path d="M169.5 175.07L171.6 178.27L169.5 181.47L167.4 178.27Z" fill="#ff0000"/>
<path d="M177.5 178.69L179.6 181.89L177.5 185.09L175.4 181.89Z" fill="#ff0000"/>
<path d="M185.5 181.99L187.6 185.19L185.5 188.39L183.4 185.19Z" fill="#ff0000"/>
<path d="M193.5 185.64L195.6 188.84L193.5 192.04L191.4 188.84Z" fill="#ff0000"/>
<path d="M201.5 188.61L203.6 191.81L201.5 195.01L199.4 191.81Z" fill="#ff0000"/>
<path d="M209.5 191.32L211.6 194.52L209.5 197.72L207.4 194.52Z" fill="#ff0000"/>
<path d="M217.5 195.5L219.6 198.7L217.5 201.9L215.4 198.7Z" fill="#ff0000"/>
<path d="M225.5 198.98L227.6 202.18L225.5 205.38L223.4 202.18Z" fill="#ff0000"/>
<path d="M233.5 202.32L235.6 205.52L233.5 208.72L231.4 205.52Z" fill="#ff0000"/>
<path d="M241.5 205.29L243.6 208.49L241.5 211.69L239.4 208.49Z" fill="#ff0000"/>
<path d="M249.5 210L251.6 213.2L249.5 216.4L247.4 213.2Z" fill="#ff0000"/>
<path d="M257.5 213.81L259.6 217.01L257.5 220.21L255.4 217.01Z" fill="#ff0000"/>
<path d="M265.5 216.5L267.6 219.7L265.5 222.9L263.4 219.7Z" fill="#ff0000"/>
<path d="M277.5 223.92L279.6 227.12L277.5 230.32L275.4 227.12Z" fill="#ff0000"/>
<path d="M293.5 231.59L295.6 234.79L293.5 237.99L291.4 234.79Z" fill="#ff0000"/>
<path d="M309.5 238.4L311.6 241.6L309.5 244.8L307.4 241.6Z" fill="#ff0000"/>
<path d="M325.5 248.34L327.6 251.54L325.5 254.74L323.4 251.54Z" fill="#ff0000"/>
<path d="M341.5 254.29L343.6 257.49L341.5 260.69L339.4 257.49Z" fill="#ff0000"/>
<path d="M357.5 229.3L359.6 232.5L357.5 235.7L355.4 232.5Z" fill="#ff0000"/>
</g>
<g fill="none" stroke="#000" stroke-width="1.1">
<line x1="45.5" y1="17.5" x2="45.5" y2="25.5"/>
<line x1="45.5" y1="317.3" x2="45.5" y2="309.3"/>
<line x1="45.5" y1="317.3" x2="45.5" y2="322.1"/>
<line x1="45.5" y1="477.6" x2="45.5" y2="472.8"/>
<line x1="61.5" y1="17.5" x2="61.5" y2="19.5"/>
<line x1="61.5" y1="317.3" x2="61.5" y2="315.3"/>
<line x1="61.5" y1="317.3" x2="61.5" y2="318.6"/>
<line x1="61.5" y1="477.6" x2="61.5" y2="476.3"/>
<line x1="77.5" y1="17.5" x2="77.5" y2="21.5"/>
<line x1="77.5" y1="317.3" x2="77.5" y2="313.3"/>
<line x1="77.5" y1="317.3" x2="77.5" y2="320"/>
<line x1="77.5" y1="477.6" x2="77.5" y2="474.9"/>
<line x1="93.5" y1="17.5" x2="93.5" y2="19.5"/>
<line x1="93.5" y1="317.3" x2="93.5" y2="315.3"/>
<line x1="93.5" y1="317.3" x2="93.5" y2="318.6"/>
<line x1="93.5" y1="477.6" x2="93.5" y2="476.3"/>
<line x1="109.5" y1="17.5" x2="109.5" y2="21.5"/>
<line x1="109.5" y1="317.3" x2="109.5" y2="313.3"/>
<line x1="109.5" y1="317.3" x2="109.5" y2="320"/>
<line x1="109.5" y1="477.6" x2="109.5" y2="474.9"/>
<line x1="125.5" y1="17.5" x2="125.5" y2="19.5"/>
<line x1="125.5" y1="317.3" x2="125.5" y2="315.3"/>
<line x1="125.5" y1="317.3" x2="125.5" y2="318.6"/>
<line x1="125.5" y1="477.6" x2="125.5" y2="476.3"/>
<line x1="141.5" y1="17.5" x2="141.5" y2="21.5"/>
<line x1="141.5" y1="317.3" x2="141.5" y2="313.3"/>
<line x1="141.5" y1="317.3" x2="141.5" y2="320"/>
<line x1="141.5" y1="477.6" x2="141.5" y2="474.9"/>
<line x1="157.5" y1="17.5" x2="157.5" y2="19.5"/>
<line x1="157.5" y1="317.3" x2="157.5" y2="315.3"/>
<line x1="157.5" y1="317.3" x2="157.5" y2="318.6"/>
<line x1="157.5" y1="477.6" x2="157.5" y2="476.3"/>
<line x1="173.5" y1="17.5" x2="173.5" y2="21.5"/>
<line x1="173.5" y1="317.3" x2="173.5" y2="313.3"/>
<line x1="173.5" y1="317.3" x2="173.5" y2="320"/>
<line x1="173.5" y1="477.6" x2="173.5" y2="474.9"/>
<line x1="189.5" y1="17.5" x2="189.5" y2="19.5"/>
<line x1="189.5" y1="317.3" x2="189.5" y2="315.3"/>
<line x1="189.5" y1="317.3" x2="189.5" y2="318.6"/>
<line x1="189.5" y1="477.6" x2="189.5" y2="476.3"/>
<line x1="205.5" y1="17.5" x2="205.5" y2="25.5"/>
<line x1="205.5" y1="317.3" x2="205.5" y2="309.3"/>
<line x1="205.5" y1="317.3" x2="205.5" y2="322.1"/>
<line x1="205.5" y1="477.6" x2="205.5" y2="472.8"/>
<line x1="221.5" y1="17.5" x2="221.5" y2="19.5"/>
<line x1="221.5" y1="317.3" x2="221.5" y2="315.3"/>
<line x1="221.5" y1="317.3" x2="221.5" y2="318.6"/>
<line x1="221.5" y1="477.6" x2="221.5" y2="476.3"/>
<line x1="237.5" y1="17.5" x2="237.5" y2="21.5"/>
<line x1="237.5" y1="317.3" x2="237.5" y2="313.3"/>
<line x1="237.5" y1="317.3" x2="237.5" y2="320"/>
<line x1="237.5" y1="477.6" x2="237.5" y2="474.9"/>
<line x1="253.5" y1="17.5" x2="253.5" y2="19.5"/>
<line x1="253.5" y1="317.3" x2="253.5" y2="315.3"/>
<line x1="253.5" y1="317.3" x2="253.5" y2="318.6"/>
<line x1="253.5" y1="477.6" x2="253.5" y2="476.3"/>
<line x1="269.5" y1="17.5" x2="269.5" y2="21.5"/>
<line x1="269.5" y1="317.3" x2="269.5" y2="313.3"/>
<line x1="269.5" y1="317.3" x2="269.5" y2="320"/>
<line x1="269.5" y1="477.6" x2="269.5" y2="474.9"/>
<line x1="285.5" y1="17.5" x2="285.5" y2="19.5"/>
<line x1="285.5" y1="317.3" x2="285.5" y2="315.3"/>
<line x1="285.5" y1="317.3" x2="285.5" y2="318.6"/>
<line x1="285.5" y1="477.6" x2="285.5" y2="476.3"/>
<line x1="301.5" y1="17.5" x2="301.5" y2="21.5"/>
<line x1="301.5" y1="317.3" x2="301.5" y2="313.3"/>
<line x1="301.5" y1="317.3" x2="301.5" y2="320"/>
<line x1="301.5" y1="477.6" x2="301.5" y2="474.9"/>
<line x1="317.5" y1="17.5" x2="317.5" y2="19.5"/>
<line x1="317.5" y1="317.3" x2="317.5" y2="315.3"/>
<line x1="317.5" y1="317.3" x2="317.5" y2="318.6"/>
<line x1="317.5" y1="477.6" x2="317.5" y2="476.3"/>
<line x1="333.5" y1="17.5" x2="333.5" y2="21.5"/>
<line x1="333.5" y1="317.3" x2="333.5" y2="313.3"/>
<line x1="333.5" y1="317.3" x2="333.5" y2="320"/>
<line x1="333.5" y1="477.6" x2="333.5" y2="474.9"/>
<line x1="349.5" y1="17.5" x2="349.5" y2="19.5"/>
<line x1="349.5" y1="317.3" x2="349.5" y2="315.3"/>
<line x1="349.5" y1="317.3" x2="349.5" y2="318.6"/>
<line x1="349.5" y1="477.6" x2="349.5" y2="476.3"/>
<line x1="365.5" y1="17.5" x2="365.5" y2="25.5"/>
<line x1="365.5" y1="317.3" x2="365.5" y2="309.3"/>
<line x1="365.5" y1="317.3" x2="365.5" y2="322.1"/>
<line x1="365.5" y1="477.6" x2="365.5" y2="472.8"/>
<line x1="45.6" y1="312.93" x2="51" y2="312.93"/>
<line x1="371.2" y1="312.93" x2="365.8" y2="312.93"/>
<line x1="45.6" y1="307.96" x2="51" y2="307.96"/>
<line x1="371.2" y1="307.96" x2="365.8" y2="307.96"/>
<line x1="45.6" y1="303.65" x2="51" y2="303.65"/>
<line x1="371.2" y1="303.65" x2="365.8" y2="303.65"/>
<line x1="45.6" y1="299.85" x2="51" y2="299.85"/>
<line x1="371.2" y1="299.85" x2="365.8" y2="299.85"/>
<line x1="45.6" y1="296.45" x2="56.9" y2="296.45"/>
<line x1="371.2" y1="296.45" x2="359.9" y2="296.45"/>
<line x1="45.6" y1="274.08" x2="51" y2="274.08"/>
<line x1="371.2" y1="274.08" x2="365.8" y2="274.08"/>
<line x1="45.6" y1="261" x2="51" y2="261"/>
<line x1="371.2" y1="261" x2="365.8" y2="261"/>
<line x1="45.6" y1="251.72" x2="51" y2="251.72"/>
<line x1="371.2" y1="251.72" x2="365.8" y2="251.72"/>
<line x1="45.6" y1="244.52" x2="51" y2="244.52"/>
<line x1="371.2" y1="244.52" x2="365.8" y2="244.52"/>
<line x1="45.6" y1="238.63" x2="51" y2="238.63"/>
<line x1="371.2" y1="238.63" x2="365.8" y2="238.63"/>
<line x1="45.6" y1="233.66" x2="51" y2="233.66"/>
<line x1="371.2" y1="233.66" x2="365.8" y2="233.66"/>
<line x1="45.6" y1="229.35" x2="51" y2="229.35"/>
<line x1="371.2" y1="229.35" x2="365.8" y2="229.35"/>
<line x1="45.6" y1="225.55" x2="51" y2="225.55"/>
<line x1="371.2" y1="225.55" x2="365.8" y2="225.55"/>
<line x1="45.6" y1="222.15" x2="56.9" y2="222.15"/>
<line x1="371.2" y1="222.15" x2="359.9" y2="222.15"/>
<line x1="45.6" y1="199.78" x2="51" y2="199.78"/>
<line x1="371.2" y1="199.78" x2="365.8" y2="199.78"/>
<line x1="45.6" y1="186.7" x2="51" y2="186.7"/>
<line x1="371.2" y1="186.7" x2="365.8" y2="186.7"/>
<line x1="45.6" y1="177.42" x2="51" y2="177.42"/>
<line x1="371.2" y1="177.42" x2="365.8" y2="177.42"/>
<line x1="45.6" y1="170.22" x2="51" y2="170.22"/>
<line x1="371.2" y1="170.22" x2="365.8" y2="170.22"/>
<line x1="45.6" y1="164.33" x2="51" y2="164.33"/>
<line x1="371.2" y1="164.33" x2="365.8" y2="164.33"/>
<line x1="45.6" y1="159.36" x2="51" y2="159.36"/>
<line x1="371.2" y1="159.36" x2="365.8" y2="159.36"/>
<line x1="45.6" y1="155.05" x2="51" y2="155.05"/>
<line x1="371.2" y1="155.05" x2="365.8" y2="155.05"/>
<line x1="45.6" y1="151.25" x2="51" y2="151.25"/>
<line x1="371.2" y1="151.25" x2="365.8" y2="151.25"/>
<line x1="45.6" y1="147.85" x2="56.9" y2="147.85"/>
<line x1="371.2" y1="147.85" x2="359.9" y2="147.85"/>
<line x1="45.6" y1="125.48" x2="51" y2="125.48"/>
<line x1="371.2" y1="125.48" x2="365.8" y2="125.48"/>
<line x1="45.6" y1="112.4" x2="51" y2="112.4"/>
<line x1="371.2" y1="112.4" x2="365.8" y2="112.4"/>
<line x1="45.6" y1="103.12" x2="51" y2="103.12"/>
<line x1="371.2" y1="103.12" x2="365.8" y2="103.12"/>
<line x1="45.6" y1="95.92" x2="51" y2="95.92"/>
<line x1="371.2" y1="95.92" x2="365.8" y2="95.92"/>
<line x1="45.6" y1="90.03" x2="51" y2="90.03"/>
<line x1="371.2" y1="90.03" x2="365.8" y2="90.03"/>
<line x1="45.6" y1="85.06" x2="51" y2="85.06"/>
<line x1="371.2" y1="85.06" x2="365.8" y2="85.06"/>
<line x1="45.6" y1="80.75" x2="51" y2="80.75"/>
<line x1="371.2" y1="80.75" x2="365.8" y2="80.75"/>
<line x1="45.6" y1="76.95" x2="51" y2="76.95"/>
<line x1="371.2" y1="76.95" x2="365.8" y2="76.95"/>
<line x1="45.6" y1="73.55" x2="56.9" y2="73.55"/>
<line x1="371.2" y1="73.55" x2="359.9" y2="73.55"/>
<line x1="45.6" y1="51.18" x2="51" y2="51.18"/>
<line x1="371.2" y1="51.18" x2="365.8" y2="51.18"/>
<line x1="45.6" y1="38.1" x2="51" y2="38.1"/>
<line x1="371.2" y1="38.1" x2="365.8" y2="38.1"/>
<line x1="45.6" y1="28.82" x2="51" y2="28.82"/>
<line x1="371.2" y1="28.82" x2="365.8" y2="28.82"/>
<line x1="45.6" y1="21.62" x2="51" y2="21.62"/>
<line x1="371.2" y1="21.62" x2="365.8" y2="21.62"/>
<line x1="45.6" y1="458.18" x2="52.85" y2="458.18"/>
<line x1="371.2" y1="458.18" x2="363.95" y2="458.18"/>
<line x1="45.6" y1="442.27" x2="51" y2="442.27"/>
<line x1="371.2" y1="442.27" x2="365.8" y2="442.27"/>
<line x1="45.6" y1="428.82" x2="51" y2="428.82"/>
<line x1="371.2" y1="428.82" x2="365.8" y2="428.82"/>
<line x1="45.6" y1="417.17" x2="51" y2="417.17"/>
<line x1="371.2" y1="417.17" x2="365.8" y2="417.17"/>
<line x1="45.6" y1="406.89" x2="51" y2="406.89"/>
<line x1="371.2" y1="406.89" x2="365.8" y2="406.89"/>
<line x1="45.6" y1="397.7" x2="54.6" y2="397.7"/>
<line x1="371.2" y1="397.7" x2="362.2" y2="397.7"/>
<line x1="45.6" y1="389.38" x2="51" y2="389.38"/>
<line x1="371.2" y1="389.38" x2="365.8" y2="389.38"/>
<line x1="45.6" y1="381.79" x2="51" y2="381.79"/>
<line x1="371.2" y1="381.79" x2="365.8" y2="381.79"/>
<line x1="45.6" y1="374.81" x2="51" y2="374.81"/>
<line x1="371.2" y1="374.81" x2="365.8" y2="374.81"/>
<line x1="45.6" y1="368.34" x2="51" y2="368.34"/>
<line x1="371.2" y1="368.34" x2="365.8" y2="368.34"/>
<line x1="45.6" y1="362.32" x2="52.85" y2="362.32"/>
<line x1="371.2" y1="362.32" x2="363.95" y2="362.32"/>
<line x1="45.6" y1="356.69" x2="51" y2="356.69"/>
<line x1="371.2" y1="356.69" x2="365.8" y2="356.69"/>
<line x1="45.6" y1="351.4" x2="51" y2="351.4"/>
<line x1="371.2" y1="351.4" x2="365.8" y2="351.4"/>
<line x1="45.6" y1="346.42" x2="51" y2="346.42"/>
<line x1="371.2" y1="346.42" x2="365.8" y2="346.42"/>
<line x1="45.6" y1="341.7" x2="51" y2="341.7"/>
<line x1="371.2" y1="341.7" x2="365.8" y2="341.7"/>
<line x1="45.6" y1="337.22" x2="52.85" y2="337.22"/>
<line x1="371.2" y1="337.22" x2="363.95" y2="337.22"/>
<line x1="45.6" y1="332.97" x2="51" y2="332.97"/>
<line x1="371.2" y1="332.97" x2="365.8" y2="332.97"/>
<line x1="45.6" y1="328.91" x2="51" y2="328.91"/>
<line x1="371.2" y1="328.91" x2="365.8" y2="328.91"/>
<line x1="45.6" y1="325.03" x2="51" y2="325.03"/>
<line x1="371.2" y1="325.03" x2="365.8" y2="325.03"/>
<line x1="45.6" y1="321.32" x2="51" y2="321.32"/>
<line x1="371.2" y1="321.32" x2="365.8" y2="321.32"/>
<line x1="45.6" y1="317.75" x2="51" y2="317.75"/>
<line x1="371.2" y1="317.75" x2="365.8" y2="317.75"/>
</g>
<g fill="none" stroke="#000">
<line x1="45.6" y1="16.9" x2="45.6" y2="478.5" stroke-width="1.3"/>
<line x1="45" y1="17.5" x2="372" y2="17.5" stroke-width="1.2"/>
<line x1="45" y1="317.3" x2="372" y2="317.3" stroke-width="1.3"/>
<line x1="45" y1="477.6" x2="372" y2="477.6" stroke-width="1.8"/>
<line x1="371.2" y1="16.9" x2="371.2" y2="478.5" stroke-width="1.6"/>
</g>
<rect x="73.65" y="221.15" width="5.5" height="5.5" fill="#000"/>
<polyline points="64,236.9 88.5,236.9" fill="none" stroke="#b35a00" stroke-width="1.2" stroke-dasharray="2.6,1.9"/>
<circle cx="76.4" cy="236.9" r="2.5" fill="none" stroke="#b35a00" stroke-width="1.2"/>
<polyline points="64,249.9 88.5,249.9" fill="none" stroke="#40a020" stroke-width="1.2" stroke-dasharray="2.6,1.9"/>
<rect x="73.75" y="247.25" width="5.3" height="5.3" fill="none" stroke="#40a020" stroke-width="1.2"/>
<polyline points="64,263 88.5,263" fill="none" stroke="#0000ff" stroke-width="1.2"/>
<path d="M76.4 259.7L79.4 265.2L73.4 265.2Z" fill="#0000ff"/>
<polyline points="64,276.1 88.5,276.1" fill="none" stroke="#ff0000" stroke-width="1.2" stroke-dasharray="1,1.2"/>
<path d="M76.4 272.9L78.5 276.1L76.4 279.3L74.3 276.1Z" fill="#ff0000"/>
<g font-family="Liberation Sans, sans-serif"><text transform="translate(51.07,13.80) scale(0.9702,1.0000)" font-size="12.5" fill="#000" letter-spacing="0">7000 GeV pp</text>
<text transform="translate(315.18,14.50) scale(0.9548,1.0000)" font-size="12.5" fill="#000" letter-spacing="0">Soft QCD</text>
<text transform="translate(129.05,42.80) scale(1.0035,1.0000)" font-size="12.2" fill="#000" letter-spacing="0">Momentum fraction z<tspan font-size="9.7" dy="0.6">(track jets)</tspan></text>
<text transform="translate(94.55,226.90) scale(0.9526,1.0000)" font-size="9.45" fill="#000" letter-spacing="0.2">ATLAS</text>
<text transform="translate(93.83,239.80) scale(0.9562,1.0000)" font-size="9.45" fill="#000" letter-spacing="0.2">Herwig++ 2.5.0 default</text>
<text transform="translate(93.84,253.15) scale(0.9523,1.0000)" font-size="9.45" fill="#000" letter-spacing="0.2">Herwig 7.2.1 default</text>
<text transform="translate(93.83,266.30) scale(0.9578,1.0000)" font-size="9.45" fill="#000" letter-spacing="0.2">Pythia 8.308 default</text>
<text transform="translate(94.07,279.65) scale(0.9569,1.0000)" font-size="9.45" fill="#000" letter-spacing="0.2">Sherpa 2.2.9 default</text>
<text transform="translate(168.00,301.70) scale(0.9666,1.0000)" font-size="8.3" fill="#a0a0a0" letter-spacing="0">ATLAS_2011_I919017</text>
<text transform="translate(23.35,78.65) scale(0.9313,1.0000)" font-size="11.3" fill="#000" letter-spacing="0">10<tspan font-size="8.3" dy="-4.6">2</tspan></text>
<text transform="translate(27.31,152.20) scale(0.9872,1.0000)" font-size="11.3" fill="#000" letter-spacing="0">10</text>
<text transform="translate(35.54,226.75) scale(0.6111,1.0000)" font-size="11.3" fill="#000" letter-spacing="0">1</text>
<text transform="translate(21.36,302.20) scale(0.8548,1.0000)" font-size="11.3" fill="#000" letter-spacing="0">10<tspan font-size="8.3" dy="-4.6">−1</tspan></text>
<text transform="translate(31.39,340.30) scale(1.2106,1.0000)" font-size="11.3" fill="#000" letter-spacing="0">2</text>
<text transform="translate(34.58,402.30) scale(0.6911,1.0000)" font-size="11.3" fill="#000" letter-spacing="0">1</text>
<text transform="translate(21.41,462.20) scale(1.0847,1.0000)" font-size="11.3" fill="#000" letter-spacing="0">0.5</text>
<text transform="translate(42.42,488.80) scale(1.1529,1.0000)" font-size="11.3" fill="#000" letter-spacing="0">0</text>
<text transform="translate(196.87,488.65) scale(1.0577,1.0000)" font-size="11.3" fill="#000" letter-spacing="0">0.5</text>
<text transform="translate(363.12,489.25) scale(0.7617,1.0000)" font-size="11.3" fill="#000" letter-spacing="0">1</text>
<text transform="translate(373.49,340.75) scale(1.2106,1.0000)" font-size="11.3" fill="#000" letter-spacing="0">2</text>
<text transform="translate(374.58,403.15) scale(0.6911,1.0000)" font-size="11.3" fill="#000" letter-spacing="0">1</text>
<text transform="translate(373.51,461.30) scale(1.0780,1.0000)" font-size="11.3" fill="#000" letter-spacing="0">0.5</text>
<text transform="translate(270.54,503.50) scale(1.0170,1.0000)" font-size="12.5" fill="#000" letter-spacing="0">Charged particle z</text>
<text transform="translate(14.05,78.48) scale(1.0000,0.9773) rotate(-90)" font-size="12.3" fill="#000" letter-spacing="0">1/N<tspan font-size="8.2" dy="3.3">jet</tspan><tspan dy="-3.3"> dN/dz</tspan></text>
<text transform="translate(18.60,426.47) scale(1.0000,0.8669) rotate(-90)" font-size="10.4" fill="#000" letter-spacing="0">Ratio to ATLAS</text>
<text transform="translate(380.80,132.26) scale(1.0000,0.9488) rotate(-90)" font-size="10.0" fill="#777777" letter-spacing="0">Rivet 3.1.10, ≥ 400k events</text>
<text transform="translate(380.80,313.36) scale(1.0000,0.9442) rotate(-90)" font-size="10.0" fill="#777777" letter-spacing="0">mcplots.cern.ch [arXiv:1306.3436]</text></g></svg>
</body></html>
